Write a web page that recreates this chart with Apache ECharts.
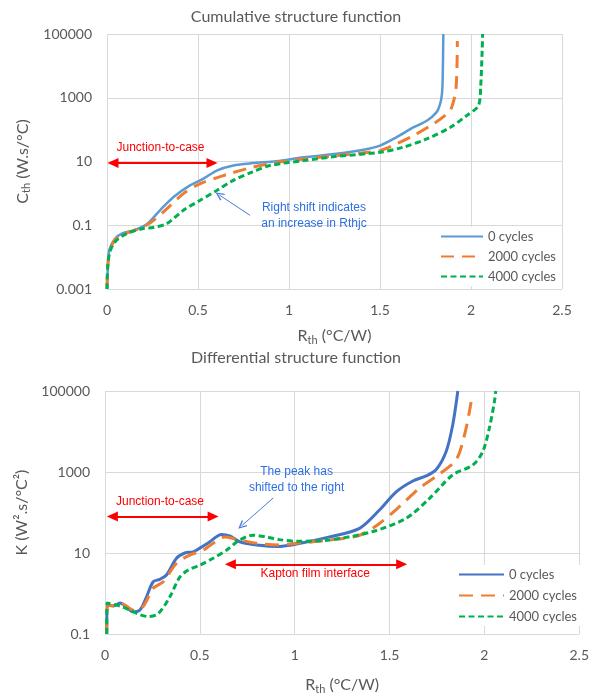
<!DOCTYPE html>
<html>
<head>
<meta charset="utf-8">
<script src="https://cdn.jsdelivr.net/npm/echarts@6/dist/echarts.min.js"></script>
<style>
  html, body { margin: 0; padding: 0; background: #fff; }
  #chart { width: 592px; height: 698px; }
</style>
</head>
<body>
<div id="chart"></div>
<script>
// Tick labels (log axes, one label every two decades)
const cumYTicks = ['0.001', '0.1', '10', '1000', '100000'];
const difYTicks = ['0.1', '10', '1000', '100000'];

// Cumulative structure function: Rth (°C/W) and Cth (W.s/°C)
const cumR0 = [0, 0.004, 0.013, 0.044, 0.081, 0.145, 0.218, 0.291, 0.364, 0.456, 0.53, 0.603, 0.694, 0.80, 0.93, 1.08, 1.262, 1.41, 1.50, 1.59, 1.683, 1.757, 1.81, 1.83, 1.84, 1.844, 1.848];
const cumC0 = [0.001, 0.004, 0.017, 0.038, 0.055, 0.069, 0.107, 0.295, 0.76, 1.78, 2.9, 5.2, 7.5, 8.9, 10.2, 13.5, 17.4, 23.4, 31.6, 57.5, 117, 190, 347, 630, 1260, 3160, 100000];
const cumR2000 = [0, 0.004, 0.015, 0.044, 0.085, 0.15, 0.236, 0.31, 0.42, 0.51, 0.658, 0.786, 0.914, 1.08, 1.262, 1.40, 1.50, 1.59, 1.683, 1.793, 1.866, 1.894, 1.918, 1.925];
const cumC2000 = [0.001, 0.005, 0.016, 0.035, 0.052, 0.068, 0.117, 0.263, 0.98, 2.0, 3.9, 6.3, 8.9, 12, 15.5, 18.6, 21.9, 35.5, 64.6, 151, 309, 500, 2090, 60000];
const cumR4000 = [0, 0.004, 0.015, 0.044, 0.108, 0.2, 0.254, 0.328, 0.42, 0.51, 0.603, 0.694, 0.80, 0.896, 1.08, 1.262, 1.50, 1.628, 1.757, 1.885, 1.976, 2.04, 2.053, 2.064];
const cumC4000 = [0.001, 0.005, 0.014, 0.030, 0.055, 0.079, 0.085, 0.112, 0.295, 0.60, 1.23, 2.57, 4.7, 7.5, 10.7, 14.5, 19.5, 28.2, 51, 117, 275, 560, 2090, 100000];

// Differential structure function: Rth (°C/W) and K (W².s/°C²)
const difR0 = [0.009, 0.012, 0.044, 0.079, 0.114, 0.149, 0.184, 0.219, 0.254, 0.289, 0.325, 0.377, 0.421, 0.465, 0.50, 0.553, 0.614, 0.658, 0.71, 0.80, 0.92, 1.01, 1.184, 1.342, 1.447, 1.535, 1.623, 1.693, 1.746, 1.798, 1.833, 1.86];
const difK0 = [0.1, 0.52, 0.49, 0.58, 0.46, 0.35, 0.39, 0.83, 1.95, 2.24, 2.9, 7.4, 10, 10.7, 13.2, 19, 28.8, 26.3, 19, 15.8, 14.5, 16.6, 25, 40.7, 115, 324, 600, 800, 1150, 3160, 14500, 100000];
const difR2000 = [0.009, 0.012, 0.05, 0.09, 0.149, 0.20, 0.254, 0.307, 0.377, 0.447, 0.517, 0.57, 0.632, 0.693, 0.80, 0.92, 1.01, 1.184, 1.342, 1.447, 1.553, 1.658, 1.763, 1.851, 1.895, 1.921, 1.935];
const difK2000 = [0.1, 0.52, 0.5, 0.56, 0.39, 0.47, 1.35, 1.95, 5.6, 8.9, 11.7, 17.4, 25, 21.9, 17.4, 15.8, 17.4, 20.9, 27.5, 53.7, 141, 400, 890, 2000, 8130, 30900, 72400];
const difR4000 = [0.009, 0.011, 0.079, 0.132, 0.184, 0.228, 0.281, 0.342, 0.395, 0.439, 0.50, 0.57, 0.64, 0.71, 0.78, 0.851, 0.92, 1.01, 1.184, 1.412, 1.588, 1.711, 1.833, 1.939, 1.991, 2.026, 2.053, 2.06];
const difK4000 = [0.1, 0.58, 0.49, 0.39, 0.30, 0.27, 0.32, 0.83, 2.57, 3.8, 5.0, 7.4, 11.7, 20.9, 27.5, 25, 21.4, 19.5, 21, 33.9, 72.4, 224, 850, 1480, 3160, 12000, 55000, 100000];

const gray = '#595959';
const gridColor = '#d9d9d9';
const labelFont = 'Lato, "Open Sans", sans-serif';
const noteFont = '"Liberation Sans", Arial, sans-serif';
const red = '#ff0000';
const noteBlue = '#2f6fe4';
const chevron = 'path://M5,0 L10,9 L8.6,9.8 L5,3.2 L1.4,9.8 L0,9 Z';

// y values are drawn on a linear axis of decades, offset so the axis starts at 0
function cumPts(rs, cs) {
  return rs.map((r, i) => [r, Math.log10(cs[i]) + 3]);
}
function difPts(rs, ks) {
  return rs.map((r, i) => [r, Math.log10(ks[i]) + 1]);
}

const nameRich = {
  n: { fontSize: 16, color: gray, fontFamily: labelFont, lineHeight: 20 },
  s: { fontSize: 11, color: gray, fontFamily: labelFont, lineHeight: 11, verticalAlign: 'bottom' }
};

function xAxisFor(gridIndex, gap) {
  return {
    type: 'value',
    gridIndex: gridIndex,
    min: 0,
    max: 2.5,
    interval: 0.5,
    axisLine: { show: false },
    axisTick: { show: false },
    splitLine: { show: true, lineStyle: { color: gridColor, width: 1 } },
    axisLabel: { color: gray, fontSize: 14, fontFamily: labelFont, margin: 14 },
    name: '{n|R}{s|th}{n| (°C/W)}',
    nameLocation: 'middle',
    nameGap: gap,
    nameTextStyle: { rich: nameRich }
  };
}

function yAxisFor(gridIndex, max, ticks, name, gap) {
  return {
    type: 'value',
    gridIndex: gridIndex,
    min: 0,
    max: max,
    interval: 2,
    axisLine: { show: false },
    axisTick: { show: false },
    splitLine: { show: true, lineStyle: { color: gridColor, width: 1 } },
    axisLabel: {
      color: gray, fontSize: 14, fontFamily: labelFont, margin: 15,
      formatter: function (v) { return ticks[Math.round(v / 2)]; }
    },
    name: name,
    nameLocation: 'middle',
    nameRotate: 90,
    nameGap: gap,
    nameTextStyle: { rich: nameRich }
  };
}

function noteLabels(items) {
  return {
    silent: true,
    symbol: 'circle',
    symbolSize: 1,
    itemStyle: { color: 'rgba(0,0,0,0)' },
    label: {
      show: true, position: 'inside', fontFamily: noteFont, fontSize: 12, lineHeight: 16,
      formatter: function (p) { return p.name; }
    },
    data: items
  };
}

function redArrows(pairs) {
  return {
    silent: true,
    symbol: ['triangle', 'triangle'],
    symbolSize: [10, 11],
    lineStyle: { color: red, width: 2, type: 'solid' },
    label: { show: false },
    data: pairs
  };
}

function blueArrow(pair) {
  return {
    silent: true,
    symbol: ['none', chevron],
    symbolSize: [8, 9],
    lineStyle: { color: '#4a7be0', width: 1, type: 'solid' },
    label: { show: false },
    data: [pair]
  };
}

const legendBase = {
  orient: 'vertical',
  itemHeight: 14,
  padding: [3, 4, 3, 2],
  backgroundColor: '#fff',
  itemStyle: { opacity: 0 },
  textStyle: { color: gray, fontSize: 13, fontFamily: labelFont }
};

const chart = echarts.init(document.getElementById('chart'));

const option = {
  backgroundColor: '#fff',
  animation: false,
  title: [
    {
      text: 'Cumulative structure function', left: 'center', top: 9, padding: 0,
      textStyle: { color: gray, fontSize: 16, fontWeight: 'normal', fontFamily: labelFont }
    },
    {
      text: 'Differential structure function', left: 'center', top: 350, padding: 0,
      textStyle: { color: gray, fontSize: 16, fontWeight: 'normal', fontFamily: labelFont }
    }
  ],
  legend: [
    Object.assign({}, legendBase, {
      data: ['0 cycles', '2000 cycles', '4000 cycles'],
      left: 438, top: 227, itemWidth: 42, itemGap: 7
    }),
    Object.assign({}, legendBase, {
      data: ['0 cycles ', '2000 cycles ', '4000 cycles '],
      left: 456, top: 565, itemWidth: 45, itemGap: 8
    })
  ],
  grid: [
    { left: 107, top: 34, width: 455, height: 255 },
    { left: 105, top: 391, width: 475, height: 243 }
  ],
  xAxis: [xAxisFor(0, 37), xAxisFor(1, 41)],
  yAxis: [
    yAxisFor(0, 8, cumYTicks, '{n|C}{s|th}{n| (W.s/°C)}', 74),
    yAxisFor(1, 6, difYTicks, '{n|K (W².s/°C²)}', 73)
  ],
  series: [
    {
      name: '0 cycles', type: 'line', xAxisIndex: 0, yAxisIndex: 0,
      data: cumPts(cumR0, cumC0), symbol: 'none', smooth: 0.3,
      lineStyle: { color: '#5b9bd5', width: 2.5 }, itemStyle: { color: '#5b9bd5' },
      markLine: redArrows([[{ coord: [0.033, 3.95] }, { coord: [0.577, 3.95] }]]),
      markPoint: noteLabels([
        { name: 'Junction-to-case', coord: [0.294, 4.42], label: { color: red } },
        { name: 'Right shift indicates\nan increase in Rthjc', coord: [1.137, 2.31], label: { color: noteBlue } }
      ])
    },
    {
      name: '2000 cycles', type: 'line', xAxisIndex: 0, yAxisIndex: 0,
      data: cumPts(cumR2000, cumC2000), symbol: 'none', smooth: 0.3,
      lineStyle: { color: '#ed7d31', width: 3, type: [13, 8] }, itemStyle: { color: '#ed7d31' },
      markLine: blueArrow([{ coord: [0.786, 2.31] }, { coord: [0.617, 2.95] }])
    },
    {
      name: '4000 cycles', type: 'line', xAxisIndex: 0, yAxisIndex: 0,
      data: cumPts(cumR4000, cumC4000), symbol: 'none', smooth: 0.3,
      lineStyle: { color: '#00b050', width: 3, type: [6, 3.5] }, itemStyle: { color: '#00b050' }
    },
    {
      name: '0 cycles ', type: 'line', xAxisIndex: 1, yAxisIndex: 1,
      data: difPts(difR0, difK0), symbol: 'none', smooth: 0.3,
      lineStyle: { color: '#4472c4', width: 3 }, itemStyle: { color: '#4472c4' },
      markLine: redArrows([
        [{ coord: [0.039, 2.9] }, { coord: [0.57, 2.9] }],
        [{ coord: [0.661, 1.72] }, { coord: [1.564, 1.72] }]
      ]),
      markPoint: noteLabels([
        { name: 'Junction-to-case', coord: [0.29, 3.27], label: { color: red } },
        { name: 'Kapton film interface', coord: [1.108, 1.48], label: { color: red } },
        { name: 'The peak has\nshifted to the right', coord: [1.01, 3.81], label: { color: noteBlue } }
      ])
    },
    {
      name: '2000 cycles ', type: 'line', xAxisIndex: 1, yAxisIndex: 1,
      data: difPts(difR2000, difK2000), symbol: 'none', smooth: 0.3,
      lineStyle: { color: '#ed7d31', width: 3, type: [14, 8] }, itemStyle: { color: '#ed7d31' },
      markLine: blueArrow([{ coord: [0.887, 3.36] }, { coord: [0.72, 2.67] }])
    },
    {
      name: '4000 cycles ', type: 'line', xAxisIndex: 1, yAxisIndex: 1,
      data: difPts(difR4000, difK4000), symbol: 'none', smooth: 0.3,
      lineStyle: { color: '#00b050', width: 3, type: [6, 3.5] }, itemStyle: { color: '#00b050' }
    }
  ]
};

chart.setOption(option);
</script>
</body>
</html>
